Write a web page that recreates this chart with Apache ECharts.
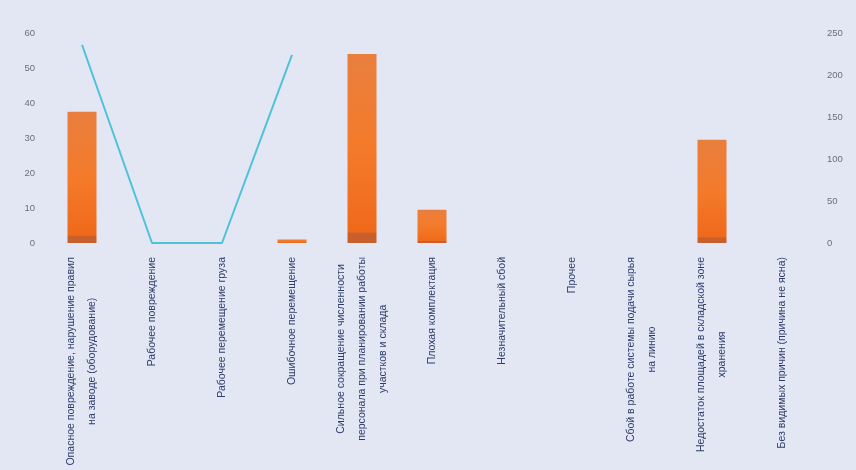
<!DOCTYPE html>
<html>
<head>
<meta charset="utf-8">
<script src="https://cdn.jsdelivr.net/npm/echarts@6/dist/echarts.min.js"></script>
<style>
html,body{margin:0;padding:0;background:#e2e7f3;}
#c{width:856px;height:470px;}
</style>
</head>
<body>
<div id="c"></div>
<script>
const categories = [
  "Опасное повреждение, нарушение правил\nна заводе (оборудование)",
  "Рабочее повреждение",
  "Рабочее перемещение груза",
  "Ошибочное перемещение",
  "Сильное сокращение численности\nперсонала при планировании работы\nучастков и склада",
  "Плохая комплектация",
  "Незначительный сбой",
  "Прочее",
  "Сбой в работе системы подачи сырья\nна линию",
  "Недостаток площадей в складской зоне\nхранения",
  "Без видимых причин (причина не ясна)"
];
const barValues = [37.5, 0, 0, 1, 54, 9.5, 0, 0, 0, 29.5, 0];
const lineValues = [236, 0, 0, 224, null, null, null, null, null, null, null];
const leftTicks = {min: 0, max: 60, interval: 10};
const rightTicks = {min: 0, max: 250, interval: 50};

const chart = echarts.init(document.getElementById('c'));
chart.setOption({
  backgroundColor: '#e2e7f3',
  animation: false,
  grid: {left: 47, right: 39, top: 33, bottom: 227, containLabel: false},
  xAxis: {
    type: 'category',
    data: categories,
    axisLine: {show: false},
    axisTick: {show: false},
    axisLabel: {
      interval: 0,
      rotate: 90,
      margin: 14,
      fontSize: 10.5,
      fontFamily: 'Liberation Sans, Arial, sans-serif',
      color: '#2e3d6b',
      lineHeight: 21,
      formatter: function (v) {
        return v.split('\n').map(function (s) { return '{c|' + s + '}'; }).join('\n');
      },
      rich: {c: {align: 'center', fontSize: 10.5, lineHeight: 21, color: '#2e3d6b'}}
    }
  },
  yAxis: [
    {
      type: 'value', min: leftTicks.min, max: leftTicks.max, interval: leftTicks.interval,
      splitLine: {show: false}, axisLine: {show: false}, axisTick: {show: false},
      axisLabel: {color: '#6b6f7a', fontSize: 9.5, margin: 12, fontFamily: 'Liberation Sans, Arial, sans-serif'}
    },
    {
      type: 'value', min: rightTicks.min, max: rightTicks.max, interval: rightTicks.interval,
      splitLine: {show: false}, axisLine: {show: false}, axisTick: {show: false},
      axisLabel: {color: '#6b6f7a', fontSize: 9.5, margin: 10, fontFamily: 'Liberation Sans, Arial, sans-serif'}
    }
  ],
  series: [
    {
      type: 'bar',
      data: barValues,
      barWidth: 29,
      yAxisIndex: 0,
      itemStyle: {
        color: new echarts.graphic.LinearGradient(0, 0, 0, 1, [
          {offset: 0, color: '#e97f3e'},
          {offset: 0.5, color: '#f47a2a'},
          {offset: 0.94, color: '#f0691b'},
          {offset: 0.95, color: '#c9602c'},
          {offset: 1, color: '#c9602c'}
        ])
      }
    },
    {
      type: 'line',
      data: lineValues,
      yAxisIndex: 1,
      symbol: 'none',
      connectNulls: false,
      lineStyle: {color: '#4fc2d9', width: 2},
      itemStyle: {color: '#4fc2d9'}
    }
  ]
});
</script>
</body>
</html>
